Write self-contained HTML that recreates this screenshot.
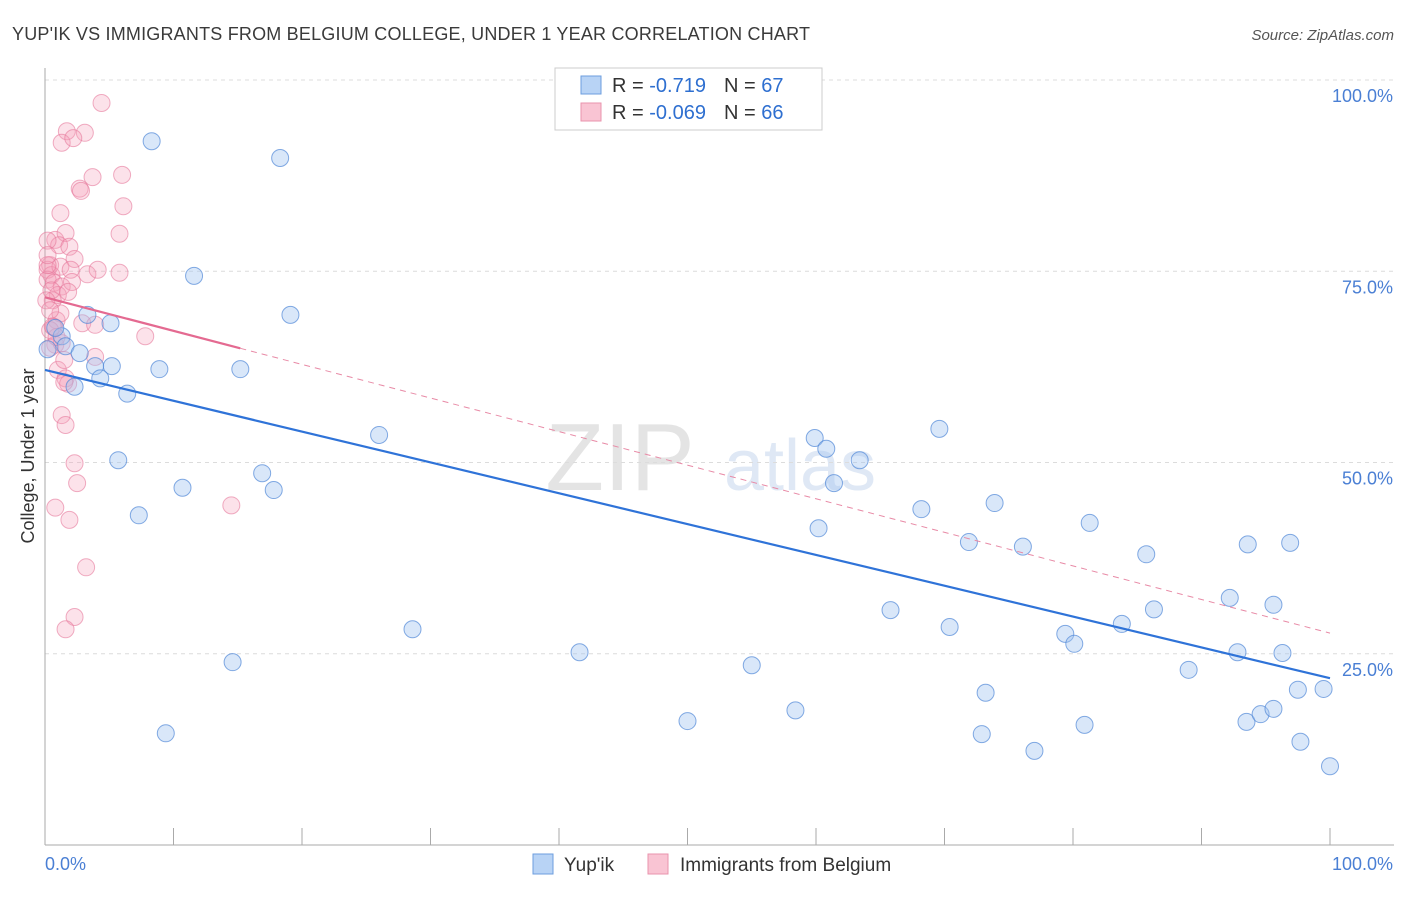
<!DOCTYPE html>
<html><head><meta charset="utf-8"><style>
body{margin:0;background:#fff;font-family:"Liberation Sans",sans-serif}
svg text{font-family:"Liberation Sans",sans-serif}
</style></head><body>
<svg id="chart" width="1406" height="892" xmlns="http://www.w3.org/2000/svg">
<text x="12" y="40" font-size="18" fill="#3a3a3a" textLength="798">YUP'IK VS IMMIGRANTS FROM BELGIUM COLLEGE, UNDER 1 YEAR CORRELATION CHART</text>
<text x="1394" y="40" font-size="15" fill="#555" font-style="italic" text-anchor="end">Source: ZipAtlas.com</text>
<text x="620" y="490" font-size="96" fill="#e4e4e4" font-family="Liberation Serif" text-anchor="middle">ZIP</text>
<text x="800" y="490" font-size="72" fill="#dfe8f5" text-anchor="middle">atlas</text>
<g id="grid"></g><g id="axes"></g><g id="pts"></g><g id="lines"></g>
<text transform="translate(34,456) rotate(-90)" font-size="18" fill="#333" text-anchor="middle">College, Under 1 year</text>
<g>
<rect x="555" y="68" width="267" height="62" fill="#fff" stroke="#ccc"/>
<rect x="581" y="76" width="20" height="18" fill="#b8d3f5" stroke="#6c9ede"/>
<rect x="581" y="103" width="20" height="18" fill="#f9c4d3" stroke="#e993ad"/>
<text x="612" y="92" font-size="20" fill="#333">R = <tspan fill="#2e6fd0"> -0.719</tspan><tspan dx="18">N = </tspan><tspan fill="#2e6fd0">67</tspan></text>
<text x="612" y="119" font-size="20" fill="#333">R = <tspan fill="#2e6fd0">-0.069</tspan><tspan dx="18">N = </tspan><tspan fill="#2e6fd0">66</tspan></text>
</g>
<g>
<rect x="533" y="854" width="20" height="20" fill="#b8d3f5" stroke="#6c9ede"/>
<text x="564" y="871" font-size="19" fill="#333">Yup'ik</text>
<rect x="648" y="854" width="20" height="20" fill="#f9c4d3" stroke="#e993ad"/>
<text x="680" y="871" font-size="19" fill="#333">Immigrants from Belgium</text>
</g>
</svg>
<script>
const yTicks=[100,75,50,25];
const yTickLabels=["100.0%","75.0%","50.0%","25.0%"];
const xTicks=[0,10,20,30,40,50,60,70,80,90,100];
const blueX=[8.3,18.3,11.6,19.1,5.1,3.3,1.3,1.6,2.7,3.9,5.2,4.3,2.3,6.4,0.2,8.9,15.2,5.7,10.7,7.3,16.9,17.8,26.0,14.6,9.4,28.6,41.6,50.0,55.0,58.4,59.9,60.8,61.4,63.4,60.2,65.8,68.2,69.6,71.9,70.4,73.2,72.9,73.9,76.1,77.0,79.4,80.1,80.9,81.3,83.8,85.7,86.3,89.0,92.2,92.8,93.6,93.5,94.6,95.6,95.6,96.3,96.9,97.5,97.7,99.5,100,0.8];
const blueY=[92.0,89.8,74.4,69.3,68.2,69.3,66.5,65.2,64.3,62.6,62.6,61.0,59.9,59.0,64.8,62.2,62.2,50.3,46.7,43.1,48.6,46.4,53.6,23.9,14.6,28.2,25.2,16.2,23.5,17.6,53.2,51.8,47.3,50.3,41.4,30.7,43.9,54.4,39.6,28.5,19.9,14.5,44.7,39.0,12.3,27.6,26.3,15.7,42.1,28.9,38.0,30.8,22.9,32.3,25.2,39.3,16.1,17.1,17.8,31.4,25.1,39.5,20.3,13.5,20.4,10.3,67.6];
const pinkX=[4.4,1.7,3.1,1.3,2.2,6.0,3.7,2.7,2.8,6.1,5.8,1.2,0.8,1.6,1.1,1.9,2.3,0.2,0.4,0.2,0.5,0.2,1.2,2.0,3.3,5.8,4.1,0.7,1.3,2.1,1.0,1.8,0.6,2.9,3.9,0.9,1.2,0.7,0.8,0.4,1.3,7.8,3.9,1.0,1.6,1.8,1.3,1.6,2.3,2.5,0.8,1.9,14.5,3.2,2.3,1.6,0.4,0.2,0.5,0.1,0.4,1.5,0.9,1.5,0.2,0.6];
const pinkY=[97.0,93.3,93.1,91.8,92.4,87.6,87.3,85.8,85.5,83.5,79.9,82.6,79.1,80.0,78.4,78.2,76.6,79.0,75.8,75.2,74.5,73.9,75.6,75.2,74.6,74.8,75.2,73.5,73.0,73.6,71.9,72.3,71.2,68.2,68.0,68.6,69.5,67.7,65.4,65.0,65.6,66.5,63.8,62.1,61.0,60.3,56.2,54.9,49.9,47.3,44.1,42.5,44.4,36.3,29.8,28.2,67.3,75.8,72.5,71.2,69.9,63.4,66.4,60.5,77.1,67.8];
const blueLine=[62.1,21.8], pinkLine=[71.6,27.7], pinkSolidEnd=15.2;
const X=v=>45+v*12.85, Y=v=>845-v*7.65;
const NS="http://www.w3.org/2000/svg";
function mk(t,a,p){const e=document.createElementNS(NS,t);for(const k in a)e.setAttribute(k,a[k]);p.appendChild(e);return e;}
const grid=document.getElementById('grid'),axes=document.getElementById('axes'),pts=document.getElementById('pts'),lines=document.getElementById('lines');
yTicks.forEach((t,i)=>{
 const g=mk('line',{x1:45,x2:1394,y1:Y(t),y2:Y(t),stroke:'#dcdcdc','stroke-dasharray':'4,4'},grid);
 
 
 const l=mk('text',{x:1393,y:Y(t)+22,'font-size':18,fill:'#4a7fd4','text-anchor':'end'},axes);l.textContent=yTickLabels[i];
 
 
});
const ax=mk('line',{x1:45,x2:1394,y1:845,y2:845,stroke:'#aaa'},axes);


const ay=mk('line',{x1:45,x2:45,y1:68,y2:845,stroke:'#aaa'},axes);


xTicks.forEach(t=>{const tk=mk('line',{x1:X(t),x2:X(t),y1:828,y2:845,stroke:'#aaa'},axes);
 
 });
[['0.0%',45,'start'],['100.0%',1393,'end']].forEach(([s,x,a])=>{const t=mk('text',{x:x,y:870,'font-size':18,fill:'#4a7fd4','text-anchor':a},axes);t.textContent=s;
 
 });
pinkX.forEach((x,i)=>{const c=mk('circle',{cx:X(x),cy:Y(pinkY[i]),r:8.5,fill:'rgba(246,160,186,0.3)',stroke:'rgba(230,120,155,0.6)','stroke-width':1},pts);
 
 });
blueX.forEach((x,i)=>{const c=mk('circle',{cx:X(x),cy:Y(blueY[i]),r:8.5,fill:'rgba(160,195,240,0.4)',stroke:'rgba(80,135,215,0.7)','stroke-width':1},pts);
 
 });
const bl=mk('line',{x1:X(0),y1:Y(blueLine[0]),x2:X(100),y2:Y(blueLine[1]),stroke:'#2f73d8','stroke-width':2.2},lines);


const py=v=>pinkLine[0]+(pinkLine[1]-pinkLine[0])*v/100;
const pd=mk('line',{x1:X(pinkSolidEnd),y1:Y(py(pinkSolidEnd)),x2:X(100),y2:Y(pinkLine[1]),stroke:'#e88aa6','stroke-width':1,'stroke-dasharray':'6,5'},lines);


const ps=mk('line',{x1:X(0),y1:Y(pinkLine[0]),x2:X(pinkSolidEnd),y2:Y(py(pinkSolidEnd)),stroke:'#e46a91','stroke-width':2.2},lines);


</script>
</body></html>
